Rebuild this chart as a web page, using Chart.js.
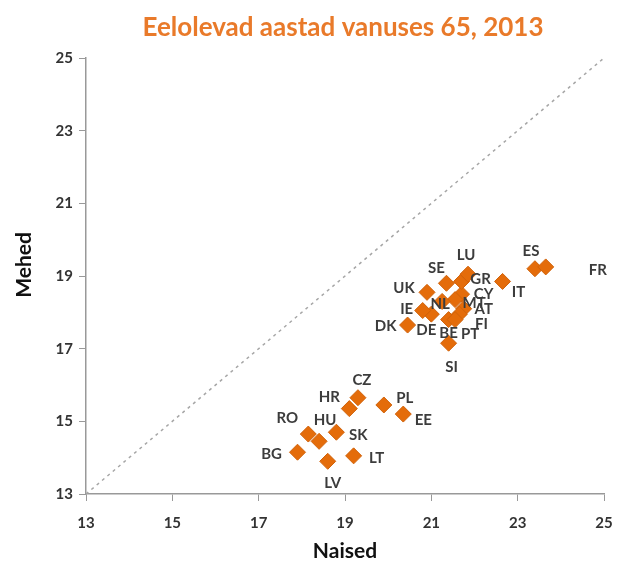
<!DOCTYPE html>
<html lang="et">
<head>
  <meta charset="UTF-8" />
  <title>Eelolevad aastad vanuses 65, 2013</title>
  <script src="https://cdn.jsdelivr.net/npm/chart.js"></script>
  <style>
    html, body { margin: 0; padding: 0; background: #fff; overflow: hidden; }
    canvas { display: block; }
  </style>
</head>
<body>
  <canvas id="lifeChart" width="619" height="562"></canvas>

  <script>
    // Data: life expectancy at 65, women (x) and men (y)
    const countries = ['AT', 'BE', 'BG', 'CY', 'CZ', 'DE', 'DK', 'EE', 'ES', 'FI', 'FR', 'GR', 'HR', 'HU',
                       'IE', 'IT', 'LT', 'LU', 'LV', 'MT', 'NL', 'PL', 'PT', 'RO', 'SE', 'SI', 'SK', 'UK'];
    const women = [21.75, 21.4, 17.9, 21.7, 19.3, 21.0, 20.45, 20.35, 23.4, 21.65, 23.65, 21.7, 19.1, 18.4,
                   20.8, 22.65, 19.2, 21.85, 18.6, 21.55, 21.25, 19.9, 21.55, 18.15, 21.35, 21.4, 18.8, 20.9];
    const men = [18.1, 17.8, 14.15, 18.5, 15.65, 17.95, 17.65, 15.2, 19.2, 17.95, 19.25, 18.85, 15.35, 14.45,
                 18.05, 18.85, 14.05, 19.05, 13.9, 18.35, 18.3, 15.45, 17.8, 14.65, 18.8, 17.15, 14.7, 18.55];
    const axisMin = 13;
    const axisMax = 25;
    const tickStep = 2;

    // label placement next to each marker (px), same order as countries
    const labelOffsets = [[20, 0], [0, 14], [-26, 2], [22, 0], [4, -18], [-5, 16], [-22, 1], [20, 6],
                          [-4, -18], [22, 10], [52, 3], [19, -2], [-20, -11], [6, -21], [-16, -1], [16, 11],
                          [23, 2], [-2, -19], [5, 22], [19, 4], [-2, 3], [21, -7], [15, 15], [-21, -16],
                          [-10, -15], [3, 24], [22, 3], [-23, -4]];

    const chartTitle = 'Eelolevad aastad vanuses 65, 2013';
    const orange = '#E46C0A';
    const fontFamily = 'Lato, "Open Sans", sans-serif';

    const points = countries.map((c, i) => ({ x: women[i], y: men[i] }));

    // country codes beside the diamonds
    const pointLabels = {
      id: 'pointLabels',
      afterDatasetsDraw(chart) {
        const ctx = chart.ctx;
        const meta = chart.getDatasetMeta(0);
        ctx.save();
        ctx.font = 'bold 15px ' + fontFamily;
        ctx.fillStyle = '#3c3c3c';
        ctx.textAlign = 'center';
        ctx.textBaseline = 'middle';
        meta.data.forEach((el, i) => {
          const off = labelOffsets[i];
          ctx.fillText(countries[i], el.x + off[0], el.y + off[1]);
        });
        ctx.restore();
      }
    };

    // title over the plot and the y axis title, placed like the original
    const titles = {
      id: 'titles',
      afterDraw(chart) {
        const ctx = chart.ctx;
        const area = chart.chartArea;
        ctx.save();
        ctx.font = 'bold 26px ' + fontFamily;
        ctx.fillStyle = '#E97A2A';
        ctx.textAlign = 'center';
        ctx.textBaseline = 'middle';
        ctx.fillText(chartTitle, (area.left + area.right) / 2 - 2, 28);

        ctx.translate(24, 265);
        ctx.rotate(-Math.PI / 2);
        ctx.font = 'bold 21px ' + fontFamily;
        ctx.fillStyle = '#111';
        ctx.fillText('Mehed', 0, 0);
        ctx.restore();
      }
    };

    const tickFont = { family: fontFamily, size: 15, weight: 'bold' };

    new Chart(document.getElementById('lifeChart'), {
      type: 'scatter',
      data: {
        datasets: [
          {
            label: 'Riigid',
            data: points,
            pointStyle: 'rectRot',
            pointRadius: 8,
            pointHoverRadius: 8,
            backgroundColor: orange,
            borderColor: '#D0620A',
            borderWidth: 1
          },
          {
            type: 'line',
            label: 'Võrdsus',
            data: [{ x: axisMin, y: axisMin }, { x: axisMax, y: axisMax }],
            borderColor: '#A6A6A6',
            borderWidth: 1.5,
            borderDash: [3, 4],
            pointRadius: 0,
            fill: false
          }
        ]
      },
      options: {
        responsive: false,
        animation: false,
        layout: { padding: { left: 0, right: 15, top: 58, bottom: 0 } },
        plugins: {
          legend: { display: false },
          tooltip: { enabled: false },
          title: { display: false }
        },
        scales: {
          x: {
            type: 'linear',
            min: axisMin,
            max: axisMax,
            ticks: { stepSize: tickStep, color: '#333', font: tickFont, padding: 13 },
            grid: { drawOnChartArea: false, drawTicks: true, tickLength: 7, color: '#999' },
            border: { color: '#999', width: 1.5 },
            title: {
              display: true, text: 'Naised', color: '#111',
              font: { family: fontFamily, size: 21, weight: 'bold', lineHeight: 1 },
              padding: { top: 0, bottom: 0 }
            },
            afterFit(scale) {
              scale.height = 68;
              scale.paddingLeft = 0;
              scale.paddingRight = 0;
            }
          },
          y: {
            type: 'linear',
            min: axisMin,
            max: axisMax,
            ticks: { stepSize: tickStep, color: '#333', font: tickFont, padding: 6 },
            grid: { drawOnChartArea: false, drawTicks: true, tickLength: 7, color: '#999' },
            border: { color: '#999', width: 1.5 },
            afterFit(scale) { scale.width = 86; }
          }
        }
      },
      plugins: [pointLabels, titles]
    });
  </script>
</body>
</html>
